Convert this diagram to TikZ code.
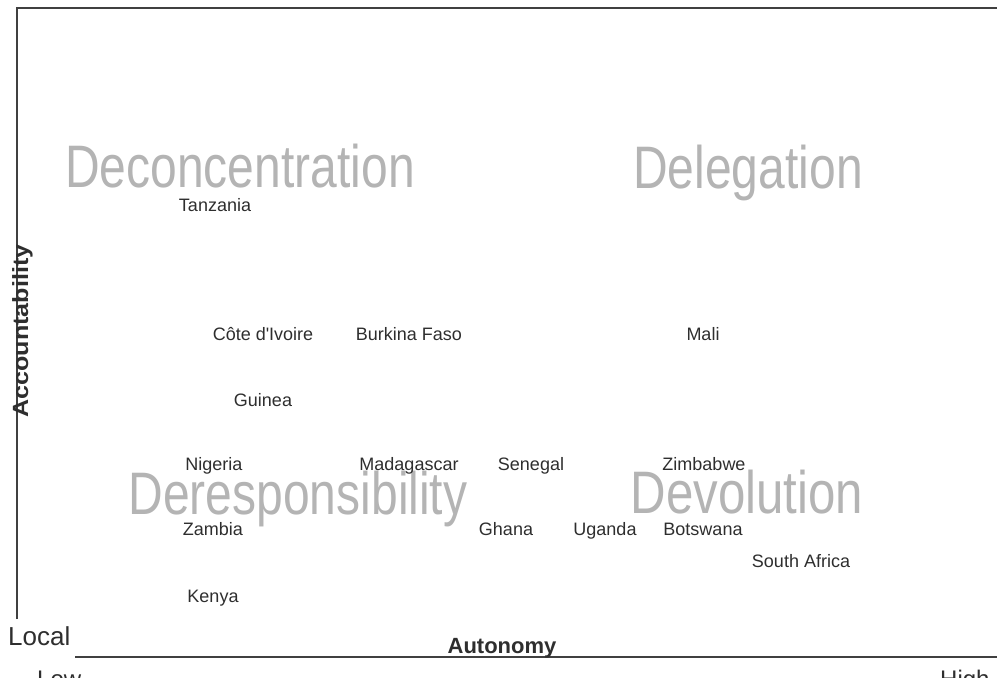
\documentclass[tikz,border=0pt]{standalone}
\usepackage{fontspec}
\setmainfont{Liberation Sans}
\definecolor{axisgray}{HTML}{404040}
\definecolor{labelgray}{HTML}{2E2E2E}
\definecolor{typegray}{HTML}{B4B4B4}
\begin{document}
\begin{tikzpicture}[x=1pt,y=-1pt,
    country/.style={anchor=base,inner sep=0pt,text=labelgray,font=\fontsize{18}{18}\selectfont},
    kind/.style={anchor=base,inner sep=0pt,text=typegray,font=\fontsize{60}{60}\selectfont},
    axislabel/.style={anchor=base,inner sep=0pt,text=labelgray,font=\fontsize{22}{22}\selectfont\bfseries},
    endlabel/.style={anchor=base west,inner sep=0pt,text=labelgray,font=\fontsize{24}{24}\selectfont},
    axisline/.style={line width=2.8pt,draw=axisgray}]
  \useasboundingbox (0,0) rectangle (997,678);
  % frame and axes
  \coordinate (vbottom) at (17,619);
  \coordinate (corner) at (17,8);
  \coordinate (topend) at (997,8);
  \coordinate (hstart) at (75,657);
  \coordinate (hend) at (997,657);
  \draw[axisline] (vbottom) -- (corner) -- (topend);
  \draw[axisline] (hstart) -- (hend);
  \node[axislabel,rotate=90] (accountability) at (28,331) {\scalebox{1.14}[1]{Accountability}};
  \node[axislabel] (autonomy) at (502,653) {Autonomy};
  \node[endlabel,font=\fontsize{26}{26}\selectfont] (local) at (8,645) {Local};
  \node[endlabel] (low) at (37,687) {Low};
  \node[endlabel] (high) at (940,687) {High};
  % the four kinds
  \node[kind] (deconcentration) at (240,187) {\scalebox{0.8}[1]{Deconcentration}};
  \node[kind] (delegation) at (748,188) {\scalebox{0.8}[1]{Delegation}};
  \node[kind] (deresponsibility) at (298,514) {\scalebox{0.8}[1]{Deresponsibility}};
  \node[kind] (devolution) at (747,513) {\scalebox{0.82}[1]{Devolution}};
  % countries
  \node[country] (tanzania) at (215,211) {Tanzania};
  \node[country] (cote) at (263,340) {Côte d\textquotesingle Ivoire};
  \node[country] (burkina) at (409,340) {Burkina Faso};
  \node[country] (mali) at (703,340) {Mali};
  \node[country] (guinea) at (263,406) {Guinea};
  \node[country] (nigeria) at (214,470) {Nigeria};
  \node[country] (madagascar) at (409,470) {Madagascar};
  \node[country] (senegal) at (531,470) {Senegal};
  \node[country] (zimbabwe) at (704,470) {Zimbabwe};
  \node[country] (zambia) at (213,535) {Zambia};
  \node[country] (ghana) at (506,535) {Ghana};
  \node[country] (uganda) at (605,535) {Uganda};
  \node[country] (botswana) at (703,535) {Botswana};
  \node[country] (southafrica) at (801,567) {South Africa};
  \node[country] (kenya) at (213,602) {Kenya};
\end{tikzpicture}
\end{document}
